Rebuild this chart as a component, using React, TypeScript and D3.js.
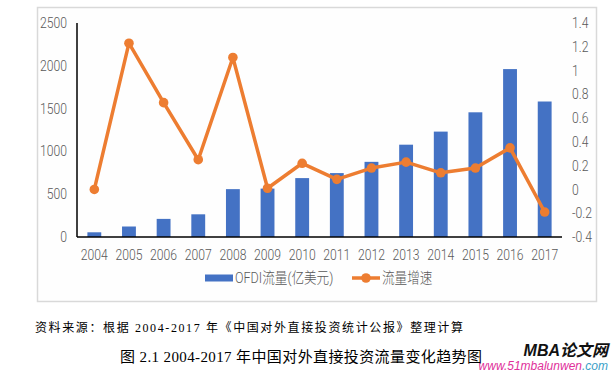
import React, { useRef, useEffect } from 'react';
import * as d3 from 'd3';

const years = ['2004', '2005', '2006', '2007', '2008', '2009', '2010', '2011', '2012', '2013', '2014', '2015', '2016', '2017'];
// OFDI flow, 100 million USD
const ofdiFlow = [55.0, 122.6, 211.6, 265.1, 559.1, 565.3, 688.1, 746.5, 878.0, 1078.4, 1231.2, 1456.7, 1961.5, 1582.9];
// growth rate of the flow
const flowGrowth = [0.0, 1.23, 0.73, 0.25, 1.11, 0.01, 0.22, 0.085, 0.18, 0.23, 0.14, 0.18, 0.35, -0.19];

const seriesNames = ['OFDI流量(亿美元)', '流量增速'];
const sourceNote = '资料来源：根据 2004-2017 年《中国对外直接投资统计公报》整理计算';
const figureTitle = '图 2.1 2004-2017 年中国对外直接投资流量变化趋势图';

const App: React.FC = () => {
  const svgRef = useRef<SVGSVGElement>(null);
  const width = 613;
  const height = 372;

  useEffect(() => {
    if (!svgRef.current) return;
    const svg = d3.select(svgRef.current);
    svg.selectAll('*').remove();

    const tickFont = 'Roboto, "Noto Sans CJK SC", sans-serif';
    const serifFont = '"Liberation Serif", "Noto Sans CJK SC", serif';
    const blue = '#4472C4';
    const orange = '#ED7D31';
    const grey = '#595959';
    const squeeze = 0.84; // narrow look of the tick font

    const plot = { left: 77, right: 562, top: 23, bottom: 237 };

    svg.append('rect').attr('width', width).attr('height', height).attr('fill', '#fff');

    // chart frame
    svg
      .append('rect')
      .attr('x', 37.5)
      .attr('y', 7.5)
      .attr('width', 559)
      .attr('height', 294)
      .attr('fill', '#fefefe')
      .attr('stroke', '#d9d9d9')
      .attr('stroke-width', 1.5);

    const x = d3.scaleBand<string>().domain(years).range([plot.left, plot.right]).padding(0);
    const yLeft = d3.scaleLinear().domain([0, 2500]).range([plot.bottom, plot.top]);
    const yRight = d3.scaleLinear().domain([-0.4, 1.4]).range([plot.bottom, plot.top]);
    const barW = x.step() * 0.4;
    const cx = (d: string) => (x(d) as number) + x.step() / 2;

    // bars
    svg
      .append('g')
      .selectAll('rect')
      .data(years)
      .enter()
      .append('rect')
      .attr('x', (d) => cx(d) - barW / 2)
      .attr('y', (d, i) => yLeft(ofdiFlow[i]))
      .attr('width', barW)
      .attr('height', (d, i) => yLeft(0) - yLeft(ofdiFlow[i]))
      .attr('fill', blue);

    // axis lines
    svg
      .append('line')
      .attr('x1', plot.left)
      .attr('x2', plot.left)
      .attr('y1', plot.top)
      .attr('y2', plot.bottom)
      .attr('stroke', '#000')
      .attr('stroke-width', 1.5);
    svg
      .append('line')
      .attr('x1', plot.left)
      .attr('x2', plot.right)
      .attr('y1', plot.bottom)
      .attr('y2', plot.bottom)
      .attr('stroke', '#000')
      .attr('stroke-width', 1.5);

    const label = (
      g: d3.Selection<SVGGElement, unknown, null, undefined>,
      px: number,
      py: number,
      anchor: string,
      txt: string
    ) =>
      g
        .append('text')
        .attr('transform', `translate(${px},${py}) scale(${squeeze},1)`)
        .attr('dy', '0.35em')
        .attr('text-anchor', anchor)
        .attr('font-family', tickFont)
        .attr('font-size', 14.5)
        .attr('font-weight', 300)
        .attr('fill', grey)
        .text(txt);

    // left tick labels
    const gl = svg.append('g');
    yLeft.ticks(5).forEach((d) => label(gl, 67, yLeft(d), 'end', String(d)));

    // right tick labels
    const gr = svg.append('g');
    yRight.ticks(10).forEach((d) => label(gr, 572, yRight(d), 'start', String(+d.toFixed(1))));

    // x labels
    const gx = svg.append('g');
    years.forEach((d) => label(gx, cx(d), 255, 'middle', d));

    // growth line
    const line = d3
      .line<number>()
      .x((d, i) => cx(years[i]))
      .y((d) => yRight(d));
    svg
      .append('path')
      .datum(flowGrowth)
      .attr('d', line)
      .attr('fill', 'none')
      .attr('stroke', orange)
      .attr('stroke-width', 3.5)
      .attr('stroke-linejoin', 'round');
    svg
      .append('g')
      .selectAll('circle')
      .data(flowGrowth)
      .enter()
      .append('circle')
      .attr('cx', (d, i) => cx(years[i]))
      .attr('cy', (d) => yRight(d))
      .attr('r', 4.8)
      .attr('fill', orange);

    // legend
    const legendY = 278;
    const gLeg = svg.append('g');
    gLeg.append('rect').attr('x', 205).attr('y', legendY - 3.5).attr('width', 28).attr('height', 7).attr('fill', blue);
    label(gLeg, 235, legendY, 'start', seriesNames[0]).attr('font-size', 15);
    gLeg
      .append('line')
      .attr('x1', 352)
      .attr('x2', 380)
      .attr('y1', legendY)
      .attr('y2', legendY)
      .attr('stroke', orange)
      .attr('stroke-width', 3.5);
    gLeg.append('circle').attr('cx', 366).attr('cy', legendY).attr('r', 4.8).attr('fill', orange);
    label(gLeg, 382, legendY, 'start', seriesNames[1]).attr('font-size', 15);

    // notes under the chart
    svg
      .append('text')
      .attr('x', 35)
      .attr('y', 328)
      .attr('dy', '0.35em')
      .attr('font-family', serifFont)
      .attr('font-size', 12)
      .attr('fill', '#000')
      .attr('textLength', 428)
      .attr('lengthAdjust', 'spacing')
      .text(sourceNote);
    svg
      .append('text')
      .attr('x', 120)
      .attr('y', 357)
      .attr('dy', '0.35em')
      .attr('font-family', serifFont)
      .attr('font-size', 15)
      .attr('fill', '#000')
      .attr('textLength', 362)
      .attr('lengthAdjust', 'spacing')
      .text(figureTitle);

    // watermark
    svg
      .append('text')
      .attr('x', 608)
      .attr('y', 350)
      .attr('dy', '0.35em')
      .attr('text-anchor', 'end')
      .attr('font-family', '"Liberation Sans", "Noto Sans CJK SC", sans-serif')
      .attr('font-size', 16)
      .attr('font-weight', 'bold')
      .attr('font-style', 'italic')
      .attr('fill', '#111')
      .text('MBA论文网');
    const wm = svg
      .append('text')
      .attr('x', 608)
      .attr('y', 366)
      .attr('dy', '0.35em')
      .attr('text-anchor', 'end')
      .attr('font-family', '"Liberation Sans", sans-serif')
      .attr('font-size', 12)
      .attr('font-style', 'italic');
    wm.append('tspan').attr('fill', '#e0309a').text('www.51mbalunwen');
    wm.append('tspan').attr('fill', '#3aa0c8').text('.com');
  }, []);

  return (
    <svg
      ref={svgRef}
      width={width}
      height={height}
      style={{ position: 'absolute', left: 0, top: 0, display: 'block' }}
    />
  );
};

export default App;
